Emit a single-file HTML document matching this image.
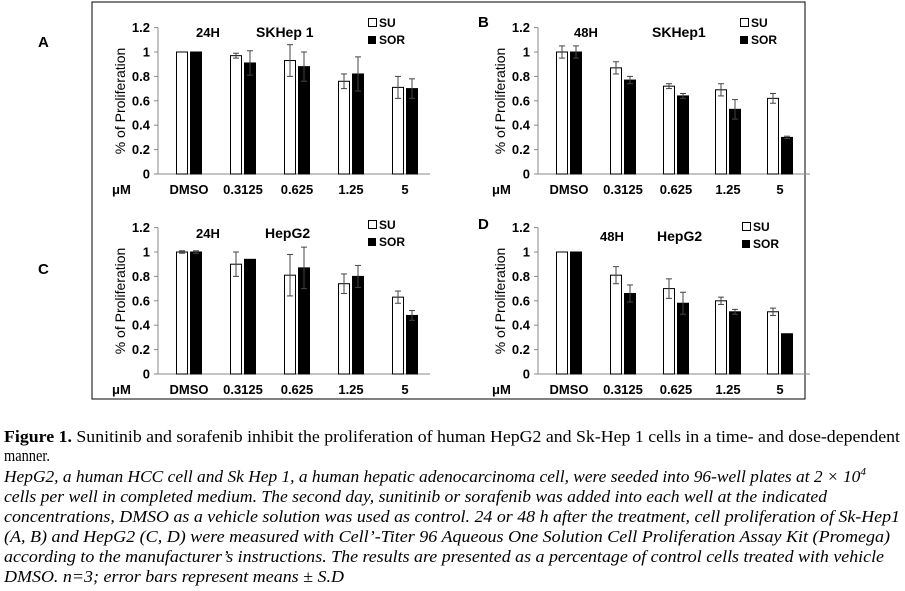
<!DOCTYPE html>
<html><head><meta charset="utf-8"><style>
html,body{margin:0;padding:0;background:#fff;}
svg{display:block;}
</style></head><body>
<svg id="s" width="905" height="591" xmlns="http://www.w3.org/2000/svg" font-family="Liberation Sans, Arial, sans-serif">
<rect x="92" y="2" width="713" height="397" fill="none" stroke="#000" stroke-width="1"/>
<g font-weight="bold" font-size="15">
<text x="38" y="47">A</text>
<text x="478" y="27">B</text>
<text x="38" y="274">C</text>
<text x="478" y="229">D</text>
</g>
<g id="charts"></g>
<g font-family="Liberation Serif, serif" font-size="17" fill="#000">
<text x="4" y="442" textLength="896" lengthAdjust="spacingAndGlyphs"><tspan font-weight="bold">Figure 1.</tspan> Sunitinib and sorafenib inhibit the proliferation of human HepG2 and Sk-Hep 1 cells in a time- and dose-dependent</text>
<text x="4" y="461" textLength="46" lengthAdjust="spacingAndGlyphs">manner.</text>
<g font-style="italic">
<text x="4" y="482" textLength="862" lengthAdjust="spacingAndGlyphs">HepG2, a human HCC cell and Sk Hep 1, a human hepatic adenocarcinoma cell, were seeded into 96-well plates at 2 × 10<tspan font-size="11" dy="-7">4</tspan></text>
<text x="4" y="502" textLength="823" lengthAdjust="spacingAndGlyphs">cells per well in completed medium. The second day, sunitinib or sorafenib was added into each well at the indicated</text>
<text x="4" y="522" textLength="896" lengthAdjust="spacingAndGlyphs">concentrations, DMSO as a vehicle solution was used as control. 24 or 48 h after the treatment, cell proliferation of Sk-Hep1</text>
<text x="4" y="542" textLength="886" lengthAdjust="spacingAndGlyphs">(A, B) and HepG2 (C, D) were measured with Cell’-Titer 96 Aqueous One Solution Cell Proliferation Assay Kit (Promega)</text>
<text x="4" y="562" textLength="880" lengthAdjust="spacingAndGlyphs">according to the manufacturer’s instructions. The results are presented as a percentage of control cells treated with vehicle</text>
<text x="4" y="582" textLength="340" lengthAdjust="spacingAndGlyphs">DMSO. n=3; error bars represent means ± S.D</text>
</g></g>
</svg>
<script>
var NS="http://www.w3.org/2000/svg",g=document.getElementById("charts");
function el(t,a,txt){var e=document.createElementNS(NS,t);for(var k in a)e.setAttribute(k,a[k]);if(txt!=null)e.textContent=txt;g.appendChild(e);return e;}
var panels=[
{ax:158,y0:174,cs:[189,243,297,351,405],t1:"24H",t1x:196,t2:"SKHep 1",t2x:256,ty:37,lx:368,ly:27,
su:[1,.97,.93,.76,.71],sue:[0,.02,.13,.06,.09],so:[1,.91,.88,.82,.70],soe:[0,.1,.12,.14,.08]},
{ax:538,y0:174,cs:[569,623,676,728,780],t1:"48H",t1x:574,t2:"SKHep1",t2x:652,ty:37,lx:740,ly:27,
su:[1,.87,.72,.69,.62],sue:[.05,.05,.02,.05,.04],so:[1,.77,.64,.53,.30],soe:[.05,.03,.02,.08,.01]},
{ax:158,y0:374,cs:[189,243,297,351,405],t1:"24H",t1x:196,t2:"HepG2",t2x:265,ty:238,lx:368,ly:229,
su:[1,.9,.81,.74,.63],sue:[.01,.1,.17,.08,.05],so:[1,.94,.87,.80,.48],soe:[.01,0,.17,.09,.04]},
{ax:538,y0:374,cs:[569,623,676,728,780],t1:"48H",t1x:600,t2:"HepG2",t2x:657,ty:241,lx:742,ly:231,
su:[1,.81,.70,.60,.51],sue:[0,.07,.08,.03,.03],so:[1,.66,.58,.51,.33],soe:[0,.07,.09,.02,0]}];
var S=122,cats=["DMSO","0.3125","0.625","1.25","5"];
panels.forEach(function(p){
 var ax=p.ax,y0=p.y0,top=y0-1.2*S;
 el("line",{x1:ax,y1:top,x2:ax,y2:y0,stroke:"#888","stroke-width":1});
 el("line",{x1:ax,y1:y0,x2:ax+272,y2:y0,stroke:"#888","stroke-width":1});
 for(var i=0;i<=6;i++){var y=y0-i*0.2*S;
  el("line",{x1:ax-4,y1:y,x2:ax,y2:y,stroke:"#888"});
  var lab=["0","0.2","0.4","0.6","0.8","1","1.2"][i];
  el("text",{x:ax-8,y:y+4.5,"text-anchor":"end","font-size":13,"font-weight":"bold"},lab);}
 el("text",{transform:"translate("+(ax-33)+","+(y0-73)+") rotate(-90)","text-anchor":"middle","font-size":14},"% of Proliferation");
 el("text",{x:ax-46,y:y0+20,"font-size":13,"font-weight":"bold"},"μM");
 p.cs.forEach(function(c,i){
  el("text",{x:c,y:y0+20,"text-anchor":"middle","font-size":13,"font-weight":"bold"},cats[i]);
  [[p.su,p.sue,c-13,"#fff"],[p.so,p.soe,c+1,"#000"]].forEach(function(b){
   var v=b[0][i],e=b[1][i],x=b[2],h=v*S;
   el("rect",{x:x+0.5,y:y0-h,width:11,height:h,fill:b[3],stroke:"#000","stroke-width":1});
   if(e>0){var cx=x+6,yt=y0-(v+e)*S,yb=y0-(v-e)*S;
    el("line",{x1:cx,y1:yt,x2:cx,y2:yb,stroke:"#444"});
    el("line",{x1:cx-3,y1:yt,x2:cx+3,y2:yt,stroke:"#444"});
    el("line",{x1:cx-3,y1:yb,x2:cx+3,y2:yb,stroke:"#444"});}
  });
 });
 el("text",{x:p.t1x,y:p.ty,"font-size":13,"font-weight":"bold"},p.t1);
 el("text",{x:p.t2x,y:p.ty,"font-size":14,"font-weight":"bold"},p.t2);
 el("rect",{x:p.lx+0.5,y:p.ly-8.5,width:8,height:8,fill:"#fff",stroke:"#000"});
 el("text",{x:p.lx+11,y:p.ly,"font-size":12,"font-weight":"bold"},"SU");
 el("rect",{x:p.lx,y:p.ly+9,width:8,height:8,fill:"#000"});
 el("text",{x:p.lx+11,y:p.ly+17,"font-size":12,"font-weight":"bold"},"SOR");
});
</script>
</body></html>
